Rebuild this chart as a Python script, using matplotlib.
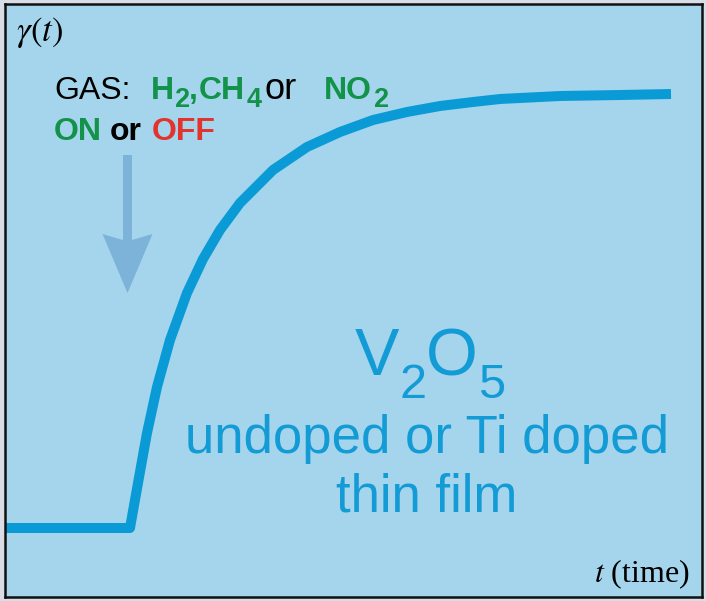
import matplotlib
matplotlib.use("Agg")
import matplotlib.pyplot as plt
from matplotlib.patches import Polygon

plt.rcParams['mathtext.fontset'] = 'stix'

# ---- data (arbitrary units: time vs response) ----
t_vals = [0, 125, 133, 142, 152, 165, 182, 198, 215, 235, 268, 302, 335, 368,
          402, 435, 468, 495, 555, 615, 666]
gamma_vals = [69, 69, 114, 164, 210, 257, 304, 338, 367, 394, 427, 450, 465, 477,
              485, 491, 495, 498, 501, 502, 503]

W, H = 706, 601
fig = plt.figure(figsize=(W / 100, H / 100), dpi=100, facecolor='#d9dde5')
# frame from x=5..702, y=4..597 (pixels from top)
ax = fig.add_axes([5 / W, 4 / H, 697 / W, 593 / H])
ax.set_facecolor('#a4d5ec')
ax.set_xlim(0, 697)
ax.set_ylim(0, 593)
ax.set_xticks([])
ax.set_yticks([])
for s in ax.spines.values():
    s.set_linewidth(1.8)
    s.set_color('#111111')

CURVE = '#0a9bd6'
ax.plot(t_vals, gamma_vals, color=CURVE, lw=7.2, solid_capstyle='butt',
        solid_joinstyle='round')

# arrow (pixel -> data conversion)
def dx(x):
    return x - 5

def dy(y):
    return 597 - y

cx = 127.5
arrow_pts = [(cx - 4.5, 155), (cx + 4.5, 155), (cx + 4.5, 240), (cx + 25, 234),
             (cx, 293), (cx - 25, 234), (cx - 4.5, 240)]
ax.add_patch(Polygon([(dx(x), dy(y)) for x, y in arrow_pts], closed=True,
                     facecolor='#7db3d9', edgecolor='none'))

# text helpers in figure pixel coords (y from top, baseline)
def put(x, y, s, size, color='black', weight='normal', family='Liberation Sans',
        ha='left', style='normal'):
    fig.text(x / W, 1 - y / H, s, fontsize=size, color=color, weight=weight,
             family=family, ha=ha, va='baseline', style=style)

GREEN = '#13924a'
RED = '#e2332d'
BLUE = '#139bd6'

put(16, 41, r'$\gamma(t)$', 25, family='Liberation Serif')

# GAS line
put(54, 99, 'GAS:', 23)
put(151, 99, 'H', 23, GREEN, 'bold')
put(175, 107, '2', 19.5, GREEN, 'bold')
put(189, 99, ',', 23, GREEN, 'bold')
put(199, 99, 'CH', 23, GREEN, 'bold')
put(247, 107, '4', 19.5, GREEN, 'bold')
put(265, 99, 'or', 26)
put(324, 99, 'NO', 23, GREEN, 'bold')
put(374, 107, '2', 19.5, GREEN, 'bold')

# ON or OFF
put(54, 140, 'ON', 23, GREEN, 'bold')
put(110, 140, 'or', 23, 'black', 'bold')
put(152, 140, 'OFF', 23, RED, 'bold')

# V2O5
put(355, 375, 'V', 48, BLUE)
put(400, 398, '2', 35, BLUE)
put(426, 375, 'O', 48, BLUE)
put(478, 398, '5', 35, BLUE)
put(427, 453, 'undoped or Ti doped', 38, BLUE, ha='center')
put(427, 512, 'thin film', 38, BLUE, ha='center')

# axis label
put(690, 582, r'$t$ (time)', 23, family='Liberation Serif', ha='right')

fig.savefig('out.png', dpi=100, facecolor=fig.get_facecolor())
